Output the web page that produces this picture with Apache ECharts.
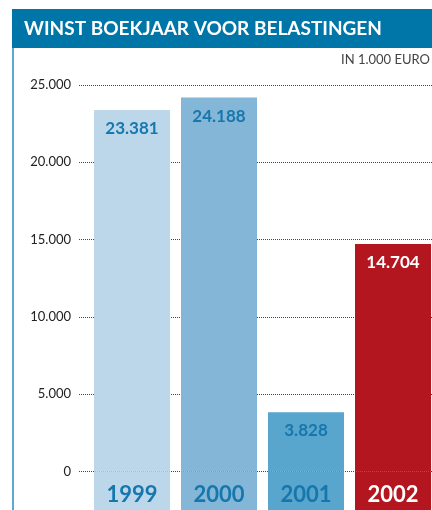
<!DOCTYPE html>
<html>
<head>
<meta charset="utf-8">
<script src="https://cdn.jsdelivr.net/npm/echarts@6/dist/echarts.min.js"></script>
<style>
  html, body { margin: 0; padding: 0; background: #fff; }
  #chart { width: 432px; height: 510px; }
</style>
</head>
<body>
<div id="chart"></div>
<script>
// jaren en winst (in 1.000 euro)
var years = ['1999', '2000', '2001', '2002'];
var profit = [23381, 24188, 3828, 14704];
var yTicks = [0, 5000, 10000, 15000, 20000, 25000];

var barColors = ['#bdd7ea', '#84b6d7', '#58a5cd', '#b3161f'];
var textColors = ['#1677ad', '#1677ad', '#1677ad', '#ffffff'];

var yMin = -2500;
var yMax = 25000;

function fmt(v) {
  return String(v).replace(/\B(?=(\d{3})+(?!\d))/g, '.');
}

var myChart = echarts.init(document.getElementById('chart'), null, { renderer: 'canvas' });

var option = {
  animation: false,
  textStyle: { fontFamily: 'Lato' },
  title: [
    {
      text: 'WINST BOEKJAAR VOOR BELASTINGEN',
      left: 24, top: 19, padding: 0,
      textStyle: { color: '#fff', fontSize: 19, fontWeight: 'bold', fontFamily: 'Lato' }
    },
    {
      text: 'IN 1.000 EURO',
      right: 2, top: 53, padding: 0,
      textStyle: { color: '#444', fontSize: 13, fontWeight: 'normal', fontFamily: 'Lato' }
    }
  ],
  graphic: [
    { type: 'rect', shape: { x: 12, y: 9, width: 420, height: 39 }, style: { fill: '#0075a8' }, z: -1 },
    { type: 'rect', shape: { x: 12, y: 48, width: 2, height: 462 }, style: { fill: '#5aaad3' }, z: -1 }
  ],
  grid: [
    // staafmiddens van 1999 t/m 2002
    { left: 132, top: 85, width: 261, height: 425 },
    { left: 79, top: 85, width: 353, height: 425 }
  ],
  xAxis: [
    {
      type: 'category', gridIndex: 0, data: years, boundaryGap: false,
      axisLine: { show: false }, axisTick: { show: false }, splitLine: { show: false },
      axisLabel: {
        inside: true, margin: 4,
        fontSize: 22, fontWeight: 'bold', fontFamily: 'Lato',
        color: function (v, i) { return textColors[i]; }
      },
      z: 5
    },
    { type: 'value', gridIndex: 1, show: false, min: 0, max: 1 }
  ],
  yAxis: [
    { type: 'value', gridIndex: 0, min: yMin, max: yMax, show: false },
    {
      type: 'value', gridIndex: 1, min: yMin, max: yMax,
      axisLine: { show: false }, axisTick: { show: false },
      axisLabel: {
        margin: 8, fontSize: 13, color: '#222', fontFamily: 'Lato',
        formatter: function (v) { return yTicks.indexOf(v) < 0 ? '' : fmt(v); }
      },
      splitLine: { lineStyle: { color: '#444', type: [1, 1], width: 1 } }
    }
  ],
  series: [
    {
      type: 'bar', xAxisIndex: 0, yAxisIndex: 0, stack: 'a', barWidth: 76, clip: false,
      data: profit.map(function (v, i) {
        return {
          value: v,
          itemStyle: { color: barColors[i] },
          label: { color: textColors[i] }
        };
      }),
      label: {
        show: true, position: 'insideTop', distance: 10,
        fontSize: 17, fontWeight: 'bold', fontFamily: 'Lato',
        formatter: function (p) { return fmt(p.value); }
      }
    },
    {
      // verlengt de staven tot onder de nullijn
      type: 'bar', xAxisIndex: 0, yAxisIndex: 0, stack: 'a', barWidth: 76, clip: false,
      data: years.map(function (y, i) {
        return { value: yMin, itemStyle: { color: barColors[i] } };
      }),
      silent: true
    }
  ]
};

myChart.setOption(option);
</script>
</body>
</html>
